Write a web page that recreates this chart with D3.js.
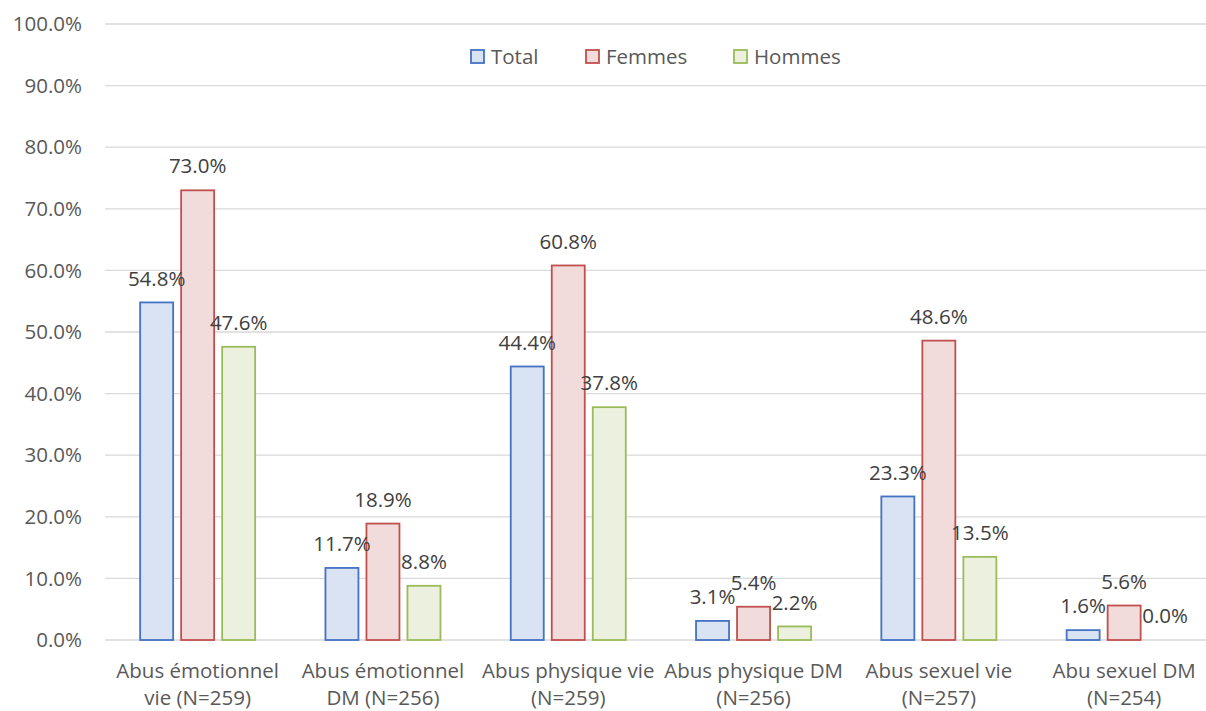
<!DOCTYPE html>
<html>
<head>
<meta charset="utf-8">
<script src="https://cdn.jsdelivr.net/npm/d3@7"></script>
<style>
	body { margin: 0; background: #fff; }
	svg { display: block; font-family: "Open Sans", "Noto Sans", sans-serif; }
</style>
</head>
<body>
<div id="chart"></div>
<script>
const categories = [
	'Abus émotionnel\nvie (N=259)',
	'Abus émotionnel\nDM (N=256)',
	'Abus physique vie\n(N=259)',
	'Abus physique DM\n(N=256)',
	'Abus sexuel vie\n(N=257)',
	'Abu sexuel DM\n(N=254)'
];
const seriesNames = ['Total', 'Femmes', 'Hommes'];
const totalValues = [54.8, 11.7, 44.4, 3.1, 23.3, 1.6];
const femmesValues = [73.0, 18.9, 60.8, 5.4, 48.6, 5.6];
const hommesValues = [47.6, 8.8, 37.8, 2.2, 13.5, 0.0];
const yTicks = [0, 10, 20, 30, 40, 50, 60, 70, 80, 90, 100];

const fills = { Total: '#dae3f3', Femmes: '#f2dcdb', Hommes: '#ebf1de' };
const strokes = { Total: '#4472c4', Femmes: '#c0504d', Hommes: '#9bbb59' };

const width = 1206, height = 711;
const left = 105, bandW = 185.3;
const fontSize = '20.5px';

const svg = d3.select('#chart').append('svg')
	.attr('width', width)
	.attr('height', height);

const x0 = d3.scaleBand()
	.domain(categories)
	.range([left, left + bandW * categories.length]);

const x1 = d3.scaleBand()
	.domain(seriesNames)
	.range([0, x0.bandwidth()])
	.paddingInner(8 / 41)
	.paddingOuter(0.857);

const y = d3.scaleLinear().domain([0, 100]).range([640, 24]);

// gridlines
svg.append('g')
	.selectAll('line')
	.data(yTicks)
	.enter().append('line')
	.attr('x1', left)
	.attr('x2', width)
	.attr('y1', d => y(d))
	.attr('y2', d => y(d))
	.attr('stroke', '#d9d9d9')
	.attr('stroke-width', 1.3);

// y tick labels
svg.append('g')
	.selectAll('text')
	.data(yTicks)
	.enter().append('text')
	.attr('x', 82)
	.attr('y', d => y(d))
	.attr('dy', '0.35em')
	.attr('text-anchor', 'end')
	.attr('fill', '#595959')
	.style('font-size', fontSize)
	.text(d => d.toFixed(1) + '%');

const rows = categories.map((c, i) => ({
	cat: c,
	values: [
		{ key: 'Total', value: totalValues[i] },
		{ key: 'Femmes', value: femmesValues[i] },
		{ key: 'Hommes', value: hommesValues[i] }
	]
}));

const group = svg.append('g')
	.selectAll('g')
	.data(rows)
	.enter().append('g')
	.attr('transform', d => `translate(${x0(d.cat)},0)`);

group.selectAll('rect')
	.data(d => d.values)
	.enter().append('rect')
	.attr('x', d => x1(d.key))
	.attr('y', d => y(d.value))
	.attr('width', x1.bandwidth())
	.attr('height', d => y(0) - y(d.value))
	.attr('fill', d => fills[d.key])
	.attr('stroke', d => strokes[d.key])
	.attr('stroke-width', d => d.value > 0 ? 1.8 : 0);

group.selectAll('text')
	.data(d => d.values)
	.enter().append('text')
	.attr('x', d => x1(d.key) + x1.bandwidth() / 2)
	.attr('y', d => y(d.value) - 24)
	.attr('dy', '0.35em')
	.attr('text-anchor', 'middle')
	.attr('fill', '#404040')
	.style('font-size', fontSize)
	.text(d => d.value.toFixed(1) + '%');

// category labels
const catLabels = svg.append('g')
	.selectAll('text')
	.data(categories)
	.enter().append('text')
	.attr('text-anchor', 'middle')
	.attr('fill', '#595959')
	.style('font-size', fontSize)
	.attr('transform', d => `translate(${x0(d) + x0.bandwidth() / 2},0)`);

catLabels.selectAll('tspan')
	.data(d => d.split('\n'))
	.enter().append('tspan')
	.attr('x', 0)
	.attr('y', (d, i) => 671 + i * 27)
	.attr('dy', '0.35em')
	.text(d => d);

// legend
const legendX = [471, 586, 734];
const legend = svg.append('g')
	.selectAll('g')
	.data(seriesNames)
	.enter().append('g')
	.attr('transform', (d, i) => `translate(${legendX[i]},50)`);

legend.append('rect')
	.attr('width', 13)
	.attr('height', 13)
	.attr('fill', d => fills[d])
	.attr('stroke', d => strokes[d])
	.attr('stroke-width', 1.8);

legend.append('text')
	.attr('x', 20)
	.attr('y', 6.5)
	.attr('dy', '0.35em')
	.attr('fill', '#595959')
	.style('font-size', fontSize)
	.text(d => d);
</script>
</body>
</html>
